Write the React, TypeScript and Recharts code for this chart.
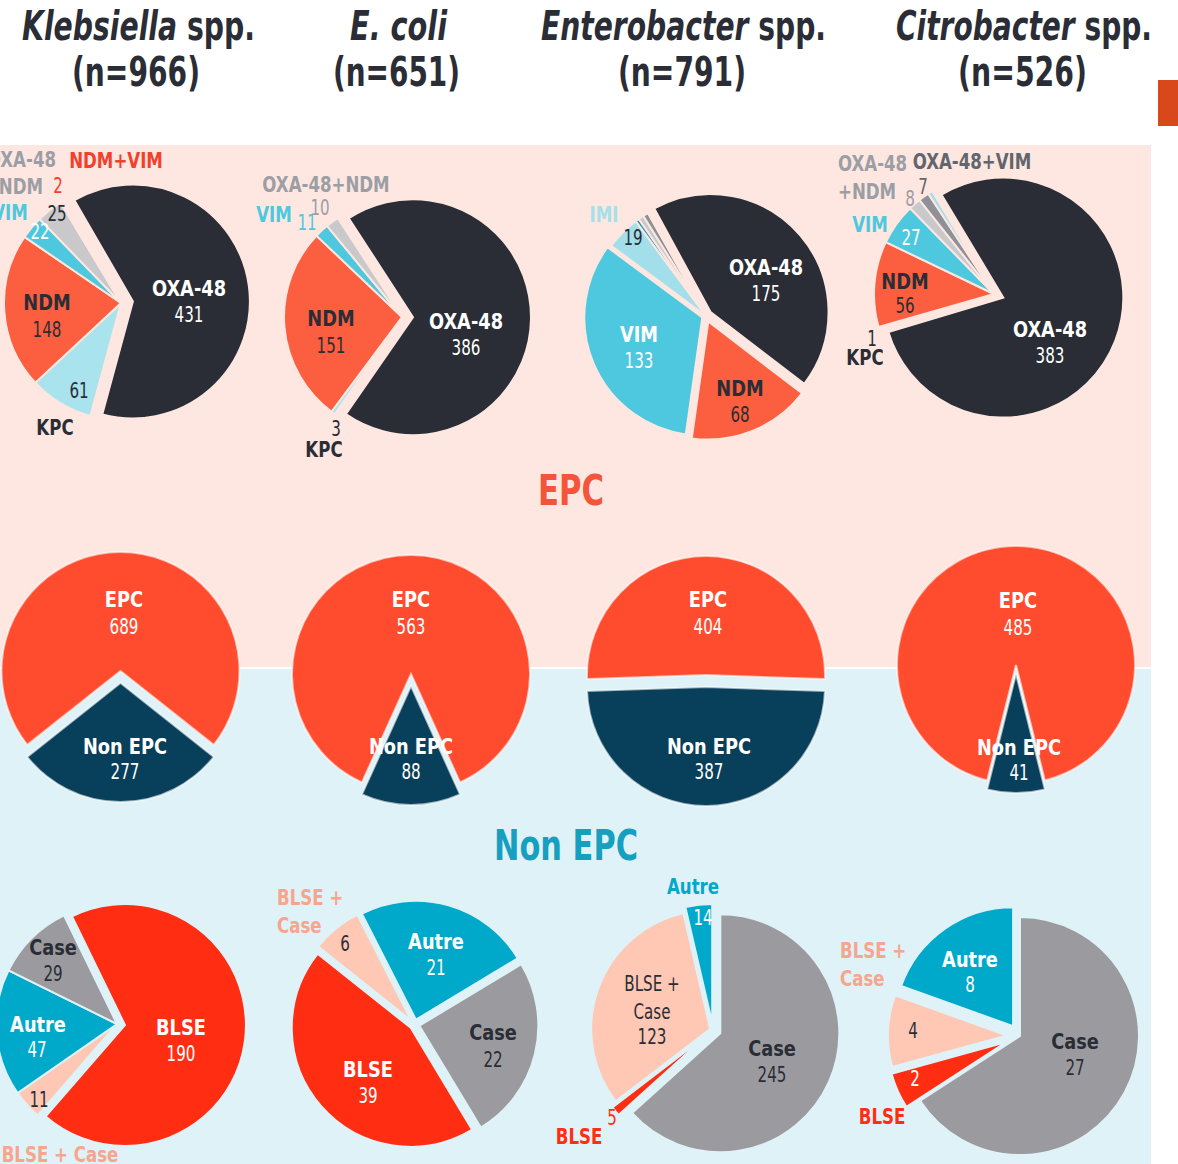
import React from "react";
import { PieChart, Pie, Cell, Sector } from "recharts";

const W = 1178;
const H = 1164;
const RADIAN = Math.PI / 180;
const FONT = "'Liberation Sans Narrow', 'DejaVu Sans Condensed', 'Roboto Condensed', 'Liberation Sans', sans-serif";

// ---- data ----
const species = [
  { genus: "Klebsiella", suffix: " spp.", n: 966 },
  { genus: "E. coli", suffix: "", n: 651 },
  { genus: "Enterobacter", suffix: " spp.", n: 791 },
  { genus: "Citrobacter", suffix: " spp.", n: 526 },
];

const carbaKlebsiella = [
  { name: "OXA-48", value: 431 },
  { name: "KPC", value: 61 },
  { name: "NDM", value: 148 },
  { name: "VIM", value: 22 },
  { name: "OXA-48+NDM", value: 25 },
  { name: "NDM+VIM", value: 2 },
];
const carbaEcoli = [
  { name: "OXA-48", value: 386 },
  { name: "KPC", value: 3 },
  { name: "NDM", value: 151 },
  { name: "VIM", value: 11 },
  { name: "OXA-48+NDM", value: 10 },
];
const carbaEnterobacter = [
  { name: "OXA-48", value: 175 },
  { name: "NDM", value: 68 },
  { name: "VIM", value: 133 },
  { name: "IMI", value: 19 },
  { name: "GES", value: 2 },
  { name: "OXA-48+NDM", value: 3 },
  { name: "OXA-48+VIM", value: 3 },
  { name: "NDM+VIM", value: 1 },
];
const carbaCitrobacter = [
  { name: "OXA-48", value: 383 },
  { name: "KPC", value: 1 },
  { name: "NDM", value: 56 },
  { name: "VIM", value: 27 },
  { name: "OXA-48+NDM", value: 8 },
  { name: "OXA-48+VIM", value: 7 },
  { name: "IMI", value: 3 },
];

const epcKlebsiella = [{ name: "EPC", value: 689 }, { name: "Non EPC", value: 277 }];
const epcEcoli = [{ name: "EPC", value: 563 }, { name: "Non EPC", value: 88 }];
const epcEnterobacter = [{ name: "EPC", value: 404 }, { name: "Non EPC", value: 387 }];
const epcCitrobacter = [{ name: "EPC", value: 485 }, { name: "Non EPC", value: 41 }];

const nonEpcKlebsiella = [
  { name: "BLSE", value: 190 },
  { name: "BLSE + Case", value: 11 },
  { name: "Autre", value: 47 },
  { name: "Case", value: 29 },
];
const nonEpcEcoli = [
  { name: "Autre", value: 21 },
  { name: "Case", value: 22 },
  { name: "BLSE", value: 39 },
  { name: "BLSE + Case", value: 6 },
];
const nonEpcEnterobacter = [
  { name: "Case", value: 245 },
  { name: "BLSE", value: 5 },
  { name: "BLSE + Case", value: 123 },
  { name: "Autre", value: 14 },
];
const nonEpcCitrobacter = [
  { name: "Case", value: 27 },
  { name: "BLSE", value: 2 },
  { name: "BLSE + Case", value: 4 },
  { name: "Autre", value: 8 },
];

// ---- colours ----
const C = {
  dark: "#2a2d35",
  white: "#ffffff",
  gray: "#9c9ea5",
  grayDark: "#62656d",
  cyan: "#4ec8de",
  lightCyan: "#a5e0eb",
  red: "#f2402c",
  salmon: "#f7a58d",
  teal: "#03a8c8",
  blse: "#ff2d12",
  epcTitle: "#f4553a",
  nonEpcTitle: "#169fbf",
};

const SLICE_COLORS: Record<string, string> = {
  "OXA-48": "#2a2d35",
  KPC: "#a9e3ee",
  NDM: "#fb5f3f",
  VIM: "#4ec8de",
  "OXA-48+NDM": "#c9c9cc",
  "OXA-48+VIM": "#8f9198",
  "NDM+VIM": "#f04a35",
  IMI: "#a2dfea",
  GES: "#1a9bb5",
  EPC: "#ff4c2f",
  "Non EPC": "#083f5a",
  BLSE: "#ff2d12",
  "BLSE + Case": "#fec8b5",
  Autre: "#00a9c9",
  Case: "#9b9b9f",
};

// ---- layout ----
type T = { t: string; x: number; y: number; c: string; b?: boolean; s: number; k: number; a?: "start" | "middle" | "end" };
type Spec = {
  data: { name: string; value: number }[];
  cx: number;
  cy: number;
  r: number;
  start: number; // compass degrees, clockwise from 12 o'clock
  explode: Record<string, number>;
  stroke: string;
  labels: Record<string, T[]>;
};

const PINK = "#fde7e0";
const BLUE = "#dff2f7";

// start angle for the EPC split: Non EPC centred at the bottom
const splitStart = (d: { value: number }[]) => 180 + ((d[1].value / (d[0].value + d[1].value)) * 360) / 2;

// label helpers: slice name inside, callout tag outside, count
const name = (t: string, x: number, y: number, c: string, a?: T["a"]): T => ({ t, x, y, c, b: true, s: 22, k: 0.9, a });
const tag = (t: string, x: number, y: number, c: string, a?: T["a"]): T => ({ t, x, y, c, b: true, s: 21, k: 0.88, a });
const num = (t: string, x: number, y: number, c: string, a?: T["a"]): T => ({ t, x, y, c, s: 21, k: 0.8, a });

const pies: Spec[] = [
  {
    data: carbaKlebsiella, cx: 121, cy: 303, r: 117, start: -30, stroke: PINK,
    explode: { "OXA-48": 12 },
    labels: {
      "OXA-48": [name("OXA-48", 68, -14, C.white), num("431", 68, 11, C.white)],
      KPC: [num("61", -42, 87, C.dark), tag("KPC", -66, 125, C.dark)],
      NDM: [name("NDM", -74, 0, C.dark), num("148", -74, 26, C.dark)],
      VIM: [num("22", -81, -72, C.white), tag("VIM", -111, -90, C.cyan)],
      "OXA-48+NDM": [num("25", -64, -90, C.dark), tag("OXA-48", -65, -143, C.gray, "end"), tag("+NDM", -78, -116, C.gray, "end")],
      "NDM+VIM": [num("2", -63, -118, C.red), tag("NDM+VIM", -5, -142, C.red)],
    },
  },
  {
    data: carbaEcoli, cx: 402, cy: 317, r: 118, start: -33, stroke: PINK,
    explode: { "OXA-48": 11 },
    labels: {
      "OXA-48": [name("OXA-48", 64, 5, C.white), num("386", 64, 30, C.white)],
      KPC: [num("3", -66, 111, C.dark), tag("KPC", -78, 133, C.dark)],
      NDM: [name("NDM", -71, 2, C.dark), num("151", -71, 28, C.dark)],
      VIM: [tag("VIM", -128, -102, C.cyan), num("11", -95, -95, C.cyan)],
      "OXA-48+NDM": [num("10", -82, -110, C.gray), tag("OXA-48+NDM", -76, -132, C.gray)],
    },
  },
  {
    data: carbaEnterobacter, cx: 706, cy: 316, r: 118, start: -28.5, stroke: PINK,
    explode: { "OXA-48": 6, NDM: 6, VIM: 4 },
    labels: {
      "OXA-48": [name("OXA-48", 60, -48, C.white), num("175", 60, -23, C.white)],
      NDM: [name("NDM", 34, 73, C.dark), num("68", 34, 98, C.dark)],
      VIM: [name("VIM", -67, 19, C.white), num("133", -67, 44, C.white)],
      IMI: [num("19", -73, -79, C.dark), tag("IMI", -102, -101, C.lightCyan)],
    },
  },
  {
    data: carbaCitrobacter, cx: 994, cy: 294, r: 120, start: -31, stroke: PINK,
    explode: { "OXA-48": 10 },
    labels: {
      "OXA-48": [name("OXA-48", 56, 36, C.white), num("383", 56, 61, C.white)],
      KPC: [num("1", -122, 44, C.dark), tag("KPC", -129, 64, C.dark)],
      NDM: [name("NDM", -89, -12, C.dark), num("56", -89, 11, C.dark)],
      VIM: [num("27", -83, -57, C.white), tag("VIM", -124, -69, C.cyan)],
      "OXA-48+NDM": [num("8", -84, -96, C.gray), tag("OXA-48", -156, -130, C.gray, "start"), tag("+NDM", -156, -102, C.gray, "start")],
      "OXA-48+VIM": [num("7", -71, -108, C.grayDark), tag("OXA-48+VIM", -22, -132, C.grayDark)],
    },
  },
  // EPC / Non EPC
  ...[
    { data: epcKlebsiella, cx: 120.5, cy: 671, e: 12, o: [3.5, -71, 4.5, 76] },
    { data: epcEcoli, cx: 411, cy: 674, e: 12, o: [0, -74, 0, 73] },
    { data: epcEnterobacter, cx: 706, cy: 675, e: 12, o: [2, -75, 3, 72] },
    { data: epcCitrobacter, cx: 1016, cy: 665, e: 9, o: [2, -64, 3, 83] },
  ].map(
    (p): Spec => ({
      data: p.data, cx: p.cx, cy: p.cy, r: 119, start: splitStart(p.data), stroke: "rgba(255,255,255,0.6)",
      explode: { "Non EPC": p.e },
      labels: {
        EPC: [name("EPC", p.o[0], p.o[1], C.white), num(String(p.data[0].value), p.o[0], p.o[1] + 26, C.white)],
        "Non EPC": [name("Non EPC", p.o[2], p.o[3], C.white), num(String(p.data[1].value), p.o[2], p.o[3] + 24, C.white)],
      },
    })
  ),
  // Non EPC breakdown
  {
    data: nonEpcKlebsiella, cx: 117, cy: 1024, r: 121, start: -26, stroke: BLUE,
    explode: { BLSE: 8 },
    labels: {
      BLSE: [name("BLSE", 64, 4, C.white), num("190", 64, 29, C.white)],
      "BLSE + Case": [num("11", -78, 75, C.dark), tag("BLSE + Case", -57, 131, C.salmon)],
      Autre: [name("Autre", -79, 1, C.white), num("47", -80, 25, C.white)],
      Case: [name("Case", -64, -76, C.dark), num("29", -64, -51, C.dark)],
    },
  },
  {
    data: nonEpcEcoli, cx: 414.5, cy: 1024.5, r: 119, start: -27, stroke: BLUE,
    explode: { Autre: 5, Case: 5, BLSE: 5, "BLSE + Case": 5 },
    labels: {
      Autre: [name("Autre", 21.5, -82.5, C.white), num("21", 21.5, -57.5, C.white)],
      Case: [name("Case", 78.5, 8.5, C.dark), num("22", 78.5, 34.5, C.dark)],
      BLSE: [name("BLSE", -46.5, 45.5, C.white), num("39", -46.5, 70.5, C.white)],
      "BLSE + Case": [num("6", -69.5, -81.5, C.dark), tag("BLSE +", -137.5, -126.5, C.salmon, "start"), tag("Case", -137.5, -98.5, C.salmon, "start")],
    },
  },
  {
    data: nonEpcEnterobacter, cx: 713, cy: 1030, r: 119, start: 0, stroke: BLUE,
    explode: { Case: 8, Autre: 7, "BLSE + Case": 3, BLSE: 8 },
    labels: {
      Case: [name("Case", 59, 19, C.dark), num("245", 59, 44, C.dark)],
      BLSE: [num("5", -101, 87, C.blse), tag("BLSE", -134, 107, C.blse)],
      "BLSE + Case": [num("BLSE +", -61, -47, C.dark), num("Case", -61, -19, C.dark), num("123", -61, 6, C.dark)],
      Autre: [num("14", -10, -113, C.white), tag("Autre", -20, -143, C.teal)],
    },
  },
  {
    data: nonEpcCitrobacter, cx: 1020, cy: 1036, r: 119, start: 0, stroke: BLUE,
    explode: { BLSE: 15, "BLSE + Case": 13, Autre: 12 },
    labels: {
      Case: [name("Case", 55, 6, C.dark), num("27", 55, 31, C.dark)],
      BLSE: [num("2", -105, 42, C.white), tag("BLSE", -138, 81, C.blse)],
      "BLSE + Case": [num("4", -107, -6, C.dark), tag("BLSE +", -180, -85, C.salmon, "start"), tag("Case", -180, -57, C.salmon, "start")],
      Autre: [name("Autre", -50, -76, C.white), num("8", -50, -52, C.white)],
    },
  },
];

// header placement: [centre x, width] for each line
const headerPos = [
  [138.5, 233, 136, 128],
  [398.5, 97, 396.5, 127],
  [683.5, 285, 682, 128],
  [1024, 256, 1022.5, 129],
];

const explodedSlice = (spec: Spec) => (props: any) => {
  const e = spec.explode[props.name ?? props.payload?.name] ?? 0;
  const a = -props.midAngle * RADIAN;
  return <Sector {...props} cx={props.cx + e * Math.cos(a)} cy={props.cy + e * Math.sin(a)} />;
};

const sliceLabel = (spec: Spec) => (props: any) => {
  const key = props.payload?.name ?? props.name;
  const items = spec.labels[key] ?? [];
  return (
    <g key={`lbl-${key}`}>
      {items.map((it, i) => (
        <text
          key={i}
          transform={`translate(${props.cx + it.x},${props.cy + it.y}) scale(${it.k},1)`}
          x={0}
          y={0}
          fill={it.c}
          fontSize={it.s}
          fontWeight={it.b ? 700 : 400}
          fontFamily={FONT}
          textAnchor={it.a ?? "middle"}
          dominantBaseline="central"
        >
          {it.t}
        </text>
      ))}
    </g>
  );
};

export default function App() {
  return (
    <div style={{ position: "relative", width: W, height: H, overflow: "hidden", background: "#fff" }}>
      <style>{`body{margin:0}`}</style>
      <div style={{ position: "absolute", left: 0, top: 145, width: 1151, height: 522, background: PINK }} />
      <div style={{ position: "absolute", left: 0, top: 669, width: 1151, height: H - 669, background: BLUE }} />
      <div style={{ position: "absolute", left: 1158, top: 80, width: 20, height: 46, background: "#d9481c" }} />

      <svg width={W} height={H} style={{ position: "absolute", left: 0, top: 0 }}>
        {species.map((s, i) => {
          const [x1, w1, x2, w2] = headerPos[i];
          return (
            <g key={s.genus} fill={C.dark} fontFamily={FONT} fontWeight={700} fontSize={40}>
              <text x={x1} y={40} textAnchor="middle" textLength={w1} lengthAdjust="spacingAndGlyphs">
                <tspan fontStyle="italic">{s.genus}</tspan>
                {s.suffix}
              </text>
              <text x={x2} y={86} textAnchor="middle" textLength={w2} lengthAdjust="spacingAndGlyphs">
                (n={s.n})
              </text>
            </g>
          );
        })}
        <text x={571} y={490} fill={C.epcTitle} fontFamily={FONT} fontWeight={700} fontSize={42} textAnchor="middle" dominantBaseline="central" textLength={66} lengthAdjust="spacingAndGlyphs">
          EPC
        </text>
        <text x={566} y={845} fill={C.nonEpcTitle} fontFamily={FONT} fontWeight={700} fontSize={42} textAnchor="middle" dominantBaseline="central" textLength={144} lengthAdjust="spacingAndGlyphs">
          Non EPC
        </text>
      </svg>

      <PieChart width={W} height={H} margin={{ top: 0, right: 0, bottom: 0, left: 0 }} style={{ position: "absolute", left: 0, top: 0 }}>
        {pies.map((p, i) => (
          <Pie
            key={i}
            data={p.data}
            dataKey="value"
            nameKey="name"
            cx={p.cx}
            cy={p.cy}
            innerRadius={0}
            outerRadius={p.r}
            startAngle={90 - p.start}
            endAngle={90 - p.start - 360}
            stroke={p.stroke}
            strokeWidth={2}
            isAnimationActive={false}
            labelLine={false}
            label={sliceLabel(p)}
            shape={explodedSlice(p)}
          >
            {p.data.map((d) => (
              <Cell key={d.name} fill={SLICE_COLORS[d.name]} />
            ))}
          </Pie>
        ))}
      </PieChart>
    </div>
  );
}
